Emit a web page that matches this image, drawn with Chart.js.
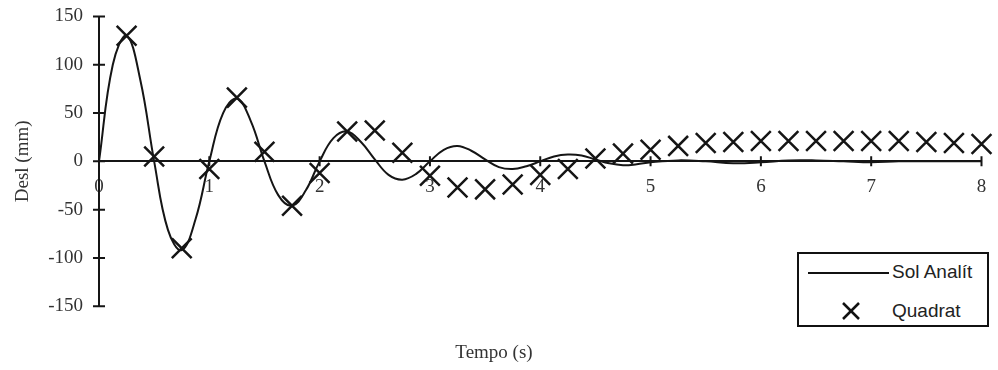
<!DOCTYPE html>
<html>
<head>
<meta charset="utf-8">
<script src="https://cdn.jsdelivr.net/npm/chart.js@4/dist/chart.umd.min.js"></script>
<style>
  body { margin: 0; background: #fff; }
  #wrap { position: relative; width: 998px; height: 370px; }
  #legend {
    position: absolute; left: 797px; top: 252px; width: 188px; height: 71px;
    border: 2px solid #111; background: #fff;
    font-family: 'Liberation Sans', Arial, sans-serif; font-size: 19px; color: #222;
  }
  #legend .row { position: absolute; left: 0; height: 24px; line-height: 24px; }
  #legend .lbl { position: absolute; left: 93px; white-space: nowrap; }
  #legend svg { position: absolute; left: 0; top: 0; }
</style>
</head>
<body>
<div id="wrap">
  <canvas id="chart" width="998" height="370"></canvas>
  <div id="legend">
    <svg width="100" height="71">
      <line x1="9" y1="19" x2="90" y2="19" stroke="#111" stroke-width="2"/>
      <line x1="44" y1="49" x2="60" y2="65" stroke="#111" stroke-width="2.5"/>
      <line x1="60" y1="49" x2="44" y2="65" stroke="#111" stroke-width="2.5"/>
    </svg>
    <div class="row" style="top:6px"><span class="lbl">Sol Analít</span></div>
    <div class="row" style="top:45px"><span class="lbl">Quadrat</span></div>
  </div>
</div>
<script>
// analytic solution, sampled
const solTempo = [0, 0.125, 0.25, 0.375, 0.5, 0.625, 0.75, 0.875, 1, 1.125, 1.25, 1.375, 1.5, 1.625, 1.75, 1.875,
  2, 2.125, 2.25, 2.375, 2.5, 2.625, 2.75, 2.875, 3, 3.125, 3.25, 3.375, 3.5, 3.625, 3.75, 3.875,
  4, 4.125, 4.25, 4.375, 4.5, 4.625, 4.75, 4.875, 5, 5.25, 5.5, 5.75, 6, 6.25, 6.5, 6.75, 7, 7.25, 7.5, 7.75, 8];
const solDesl = [0, 100, 130, 84, 0, -71, -92, -60, 0, 50, 65, 42, 0, -35, -46, -30,
  0, 24, 31, 20, 2, -14, -19, -13, 0, 12, 16, 11, 2, -6, -8, -5,
  0, 5, 7, 6, 2, -2, -4, -3, -1, 1, 0, -2, -1, 1, 1, 0, -1, 0, 0, 0, 0];

// quadrature method results
const quadTempo = [0.25, 0.5, 0.75, 1, 1.25, 1.5, 1.75, 2, 2.25, 2.5, 2.75, 3, 3.25, 3.5, 3.75, 4,
  4.25, 4.5, 4.75, 5, 5.25, 5.5, 5.75, 6, 6.25, 6.5, 6.75, 7, 7.25, 7.5, 7.75, 8];
const quadDesl = [130, 5, -90, -8, 66, 10, -46, -12, 31, 32, 9, -15, -27, -29, -24, -14,
  -8, 3, 8, 12, 16, 19, 20, 21, 21, 21, 21, 21, 21, 20, 19, 18];

const xTicks = [0, 1, 2, 3, 4, 5, 6, 7, 8];
const yTicks = [-150, -100, -50, 0, 50, 100, 150];

const serif = "'Liberation Serif', 'Times New Roman', serif";
const ink = '#151515';

// small tick marks that cross both axis lines
const crossTicks = {
  id: 'crossTicks',
  afterDraw(chart) {
    const { ctx, scales: { x, y } } = chart;
    const y0 = y.getPixelForValue(0);
    const x0 = x.getPixelForValue(0);
    ctx.save();
    ctx.strokeStyle = ink;
    ctx.lineWidth = 2;
    ctx.beginPath();
    xTicks.forEach(v => {
      const px = x.getPixelForValue(v);
      ctx.moveTo(px, y0 - 5);
      ctx.lineTo(px, y0 + 5);
    });
    yTicks.forEach(v => {
      const py = y.getPixelForValue(v);
      ctx.moveTo(x0 - 6, py);
      ctx.lineTo(x0 + 6, py);
    });
    ctx.stroke();
    ctx.restore();
  }
};

// keep the end labels from pushing the plot area inwards
function noEdgePadding(scale) {
  scale.paddingTop = 0;
  scale.paddingBottom = 0;
  scale.paddingLeft = 0;
  scale.paddingRight = 0;
}

new Chart(document.getElementById('chart'), {
  type: 'scatter',
  data: {
    datasets: [{
      label: 'Sol Analít',
      data: solTempo.map((t, i) => ({ x: t, y: solDesl[i] })),
      showLine: true,
      pointRadius: 0,
      borderColor: ink,
      borderWidth: 2,
      tension: 0.4,
      clip: false
    }, {
      label: 'Quadrat',
      data: quadTempo.map((t, i) => ({ x: t, y: quadDesl[i] })),
      showLine: false,
      pointStyle: 'crossRot',
      pointRadius: 14,
      pointBorderWidth: 2.5,
      borderColor: ink,
      backgroundColor: ink,
      clip: false
    }]
  },
  plugins: [crossTicks],
  options: {
    responsive: false,
    animation: false,
    events: [],
    layout: { padding: { top: 16, right: 10, left: 0, bottom: 0 } },
    plugins: {
      legend: { display: false },
      tooltip: { enabled: false },
      title: {
        display: true,
        position: 'bottom',
        text: 'Tempo (s)',
        color: '#333',
        font: { family: serif, size: 19, weight: 'normal' },
        padding: { top: 35, bottom: 6 }
      }
    },
    scales: {
      x: {
        type: 'linear',
        min: 0,
        max: 8,
        position: { y: 0 },
        afterBuildTicks: (scale) => { scale.ticks = xTicks.map(v => ({ value: v })); },
        afterFit: noEdgePadding,
        ticks: {
          color: '#333',
          padding: 14,
          font: { family: serif, size: 19 }
        },
        grid: { display: false, drawTicks: false },
        border: { color: ink, width: 2 }
      },
      y: {
        type: 'linear',
        min: -150,
        max: 150,
        position: 'left',
        afterBuildTicks: (scale) => { scale.ticks = yTicks.map(v => ({ value: v })); },
        afterFit: (scale) => { noEdgePadding(scale); scale.width = 99; },
        ticks: {
          color: '#333',
          padding: 16,
          font: { family: serif, size: 19 }
        },
        title: {
          display: true,
          text: 'Desl (mm)',
          color: '#333',
          font: { family: serif, size: 19 },
          padding: { top: 12, bottom: 0 }
        },
        grid: { display: false, drawTicks: false },
        border: { color: ink, width: 2 }
      }
    }
  }
});
</script>
</body>
</html>
